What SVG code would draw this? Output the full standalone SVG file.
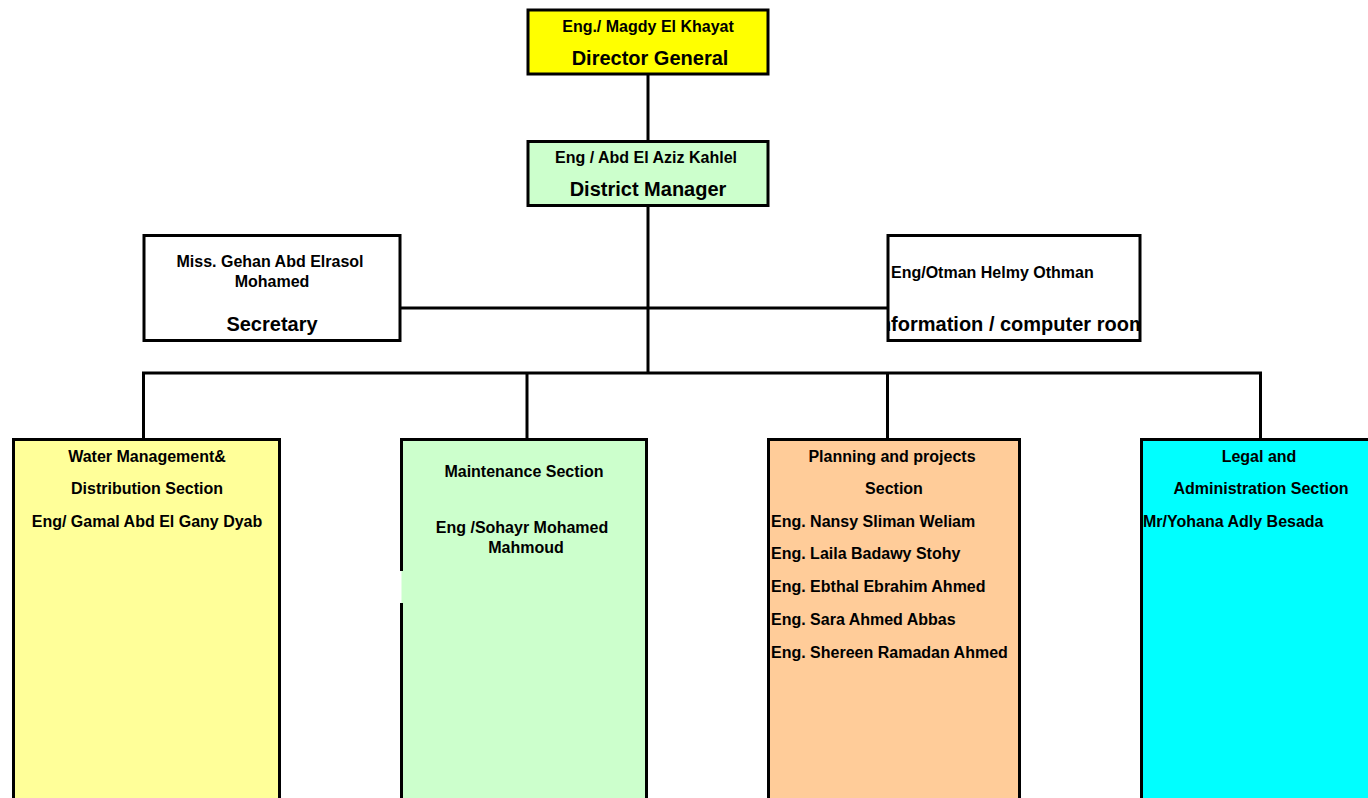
<svg xmlns="http://www.w3.org/2000/svg" width="1368" height="798" viewBox="0 0 1368 798">
<style>
text{font-family:"Liberation Sans",Arial,sans-serif;font-weight:bold;fill:#000}
.s{font-size:16px}
.l{font-size:20px}
.c{text-anchor:middle}
.box{stroke:#000;stroke-width:3}
.ln{stroke:#000;stroke-width:3;fill:none}
</style>
<defs>
<clipPath id="infoClip"><rect x="889" y="236" width="250" height="104"/></clipPath>
</defs>
<rect width="1368" height="798" fill="#fff"/>
<g id="connectors">
<line class="ln" x1="648" y1="75" x2="648" y2="141"/>
<line class="ln" x1="648" y1="206" x2="648" y2="373"/>
<line class="ln" x1="400" y1="308" x2="888" y2="308"/>
<line class="ln" x1="142" y1="373" x2="1262" y2="373"/>
<line class="ln" x1="143.5" y1="373" x2="143.5" y2="439"/>
<line class="ln" x1="527" y1="373" x2="527" y2="439"/>
<line class="ln" x1="887.5" y1="373" x2="887.5" y2="439"/>
<line class="ln" x1="1260.5" y1="373" x2="1260.5" y2="439"/>
</g>
<g id="director">
<rect class="box" x="528" y="10" width="240" height="64" fill="#FFFF00"/>
<text class="s c" x="648" y="32">Eng./ Magdy El Khayat</text>
<text class="l c" x="650" y="65">Director General</text>
</g>
<g id="district">
<rect class="box" x="528" y="141.5" width="240" height="64" fill="#CCFFCC"/>
<text class="s c" x="646" y="163">Eng / Abd El Aziz Kahlel</text>
<text class="l c" x="648" y="196">District Manager</text>
</g>
<g id="secretary">
<rect class="box" x="144" y="235.5" width="256" height="105" fill="#fff"/>
<text class="s c" x="270" y="267">Miss. Gehan Abd Elrasol</text>
<text class="s c" x="272" y="287">Mohamed</text>
<text class="l c" x="272" y="331">Secretary</text>
</g>
<g id="information">
<rect class="box" x="888" y="235.5" width="252" height="105" fill="#fff"/>
<text class="s" x="891" y="278">Eng/Otman Helmy Othman</text>
<text class="l c" x="1010" y="331" clip-path="url(#infoClip)">Information / computer room</text>
</g>
<g id="water">
<rect class="box" x="13.5" y="439.5" width="266" height="370" fill="#FFFF99"/>
<text class="s c" x="147" y="462">Water Management&amp;</text>
<text class="s c" x="147" y="494">Distribution Section</text>
<text class="s c" x="147" y="527">Eng/ Gamal Abd El Gany Dyab</text>
</g>
<g id="maintenance">
<rect x="401.5" y="439.5" width="245" height="370" fill="#CCFFCC"/>
<path class="ln" d="M401.5,571 V439.5 H646.5 V810 M401.5,603 V810"/>
<text class="s c" x="524" y="477">Maintenance Section</text>
<text class="s c" x="522" y="533">Eng /Sohayr Mohamed</text>
<text class="s c" x="526" y="553">Mahmoud</text>
</g>
<g id="planning">
<rect class="box" x="768.5" y="439.5" width="251" height="370" fill="#FFCC99"/>
<text class="s c" x="892" y="462">Planning and projects</text>
<text class="s c" x="894" y="494">Section</text>
<text class="s" x="771" y="527">Eng. Nansy Sliman Weliam</text>
<text class="s" x="771" y="559">Eng. Laila Badawy Stohy</text>
<text class="s" x="771" y="592">Eng. Ebthal Ebrahim Ahmed</text>
<text class="s" x="771" y="625">Eng. Sara Ahmed Abbas</text>
<text class="s" x="771" y="658">Eng. Shereen Ramadan Ahmed</text>
</g>
<g id="legal">
<rect class="box" x="1141.5" y="439.5" width="240" height="370" fill="#00FFFF"/>
<text class="s c" x="1259" y="462">Legal and</text>
<text class="s c" x="1261" y="494">Administration Section</text>
<text class="s" x="1143" y="527">Mr/Yohana Adly Besada</text>
</g>
</svg>
